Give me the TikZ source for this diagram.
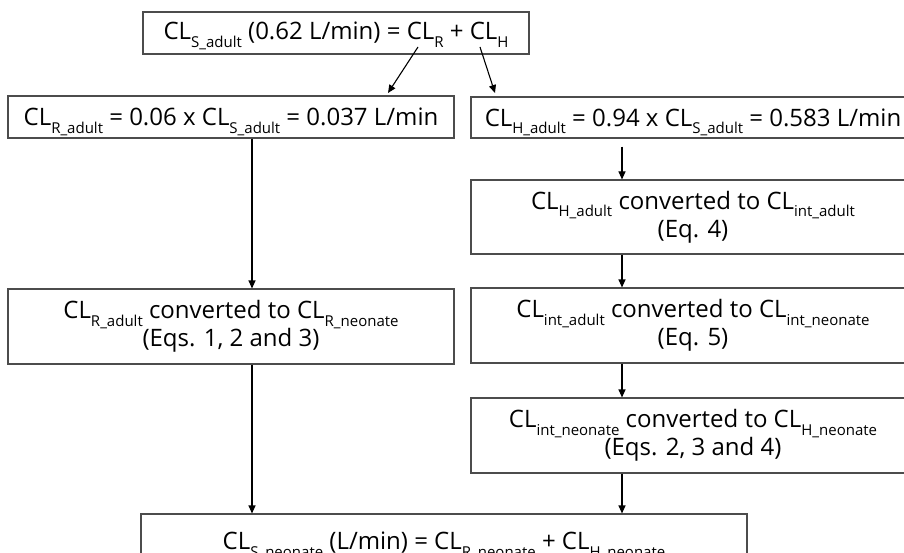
\documentclass[tikz,border=0pt]{standalone}
\usepackage{fontspec}
\setmainfont{Open Sans}
\usetikzlibrary{arrows.meta}

\newcommand{\clx}[1]{CL\smash{\raisebox{-7.5pt}{\fontsize{15}{15}\selectfont #1}}}

\begin{document}
\begin{tikzpicture}[x=1pt,y=1pt,
    box/.style={draw=black!70, line width=1.1pt, align=center, inner sep=0pt,
      font=\fontsize{24}{28}\selectfont},
    wide/.style={minimum width=446pt},
    arr/.style={-{Triangle[length=8pt,width=7pt]}, line width=1.1pt}]
  \clip (0,0) rectangle (904,-553);
  % top row
  \node[box, minimum width=386pt, minimum height=42pt] (top) at (336,-33)
    {\clx{S\_adult} (0.62 L/min) = \clx{R} + \clx{H}};
  % renal branch
  \node[box, wide, minimum height=42pt] (radult) at (231,-117)
    {\clx{R\_adult} = 0.06 x \clx{S\_adult} = 0.037 L/min};
  \node[box, wide, minimum height=75pt] (rconv) at (231,-326.5)
    {\clx{R\_adult} converted to \clx{R\_neonate}\\(Eqs. 1, 2 and 3)};
  % hepatic branch
  \node[box, minimum width=444pt, minimum height=41pt] (hadult) at (693,-117.5)
    {\clx{H\_adult} = 0.94 x \clx{S\_adult} = 0.583 L/min};
  \node[box, minimum width=444pt, minimum height=74pt] (hconv) at (693,-217)
    {\clx{H\_adult} converted to \clx{int\_adult}\\(Eq. 4)};
  \node[box, minimum width=444pt, minimum height=75pt] (intconv) at (693,-325.5)
    {\clx{int\_adult} converted to \clx{int\_neonate}\\(Eq. 5)};
  \node[box, minimum width=444pt, minimum height=75pt] (hneo) at (693,-435.5)
    {\clx{int\_neonate} converted to \clx{H\_neonate}\\(Eqs. 2, 3 and 4)};
  % bottom
  \node[box, minimum width=606pt, minimum height=58pt] (sneo) at (444,-543)
    {\clx{S\_neonate} (L/min) = \clx{R\_neonate} + \clx{H\_neonate}};

  \coordinate (rfrom) at (418,-47);
  \coordinate (rto) at (388,-93);
  \coordinate (hfrom) at (480,-47);
  \coordinate (hto) at (495,-93);
  \coordinate (lcol) at (252,0);
  \coordinate (rcol) at (622,0);

  \draw[arr] (rfrom) -- (rto);
  \draw[arr] (hfrom) -- (hto);
  \draw[arr] (radult.south -| lcol) -- (rconv.north -| lcol);
  \draw[arr] (rconv.south -| lcol) -- (sneo.north -| lcol);
  \draw[arr, shorten <=8pt] (hadult.south -| rcol) -- (hconv.north -| rcol);
  \draw[arr] (hconv.south -| rcol) -- (intconv.north -| rcol);
  \draw[arr] (intconv.south -| rcol) -- (hneo.north -| rcol);
  \draw[arr] (hneo.south -| rcol) -- (sneo.north -| rcol);
\end{tikzpicture}
\end{document}
